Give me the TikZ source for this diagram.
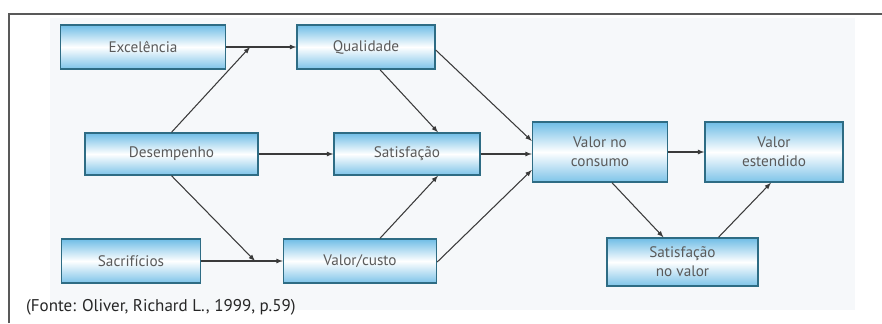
\documentclass[tikz,border=0pt]{standalone}
\usepackage{fontspec}
\setmainfont{PT Sans}
\usetikzlibrary{calc,shadows}
\definecolor{boxblue}{HTML}{6FBDE6}
\definecolor{boxedge}{HTML}{2E6C84}
\definecolor{boxtext}{HTML}{5A5A5A}
\definecolor{flecha}{HTML}{3A3A3A}
\definecolor{fundo}{HTML}{F6F8FA}

\begin{document}
\begin{tikzpicture}[x=0.03cm, y=-0.03cm, >=latex,
    caixa/.style={draw=boxedge, line width=1.2pt, top color=boxblue, bottom color=boxblue!90,
      middle color=white, align=center, text=boxtext, inner sep=0pt,
      font=\fontsize{13}{16}\selectfont,
      drop shadow={fill=orange!40, opacity=0.35, shadow xshift=0.6pt, shadow yshift=-0.6pt}},
    liga/.style={->, draw=flecha, line width=0.9pt}]
    % Moldura e fundo
    \useasboundingbox (0,0) rectangle (882,323);
    \fill[fundo] (50,18) rectangle (855,310);
    \draw[gray!70!black, line width=1.2pt] (9,323) -- (9,14) -- (882,14);

    % Coluna 1 (Antecedentes)
    \node[caixa, minimum width=4.95cm, minimum height=1.32cm] (E) at (143,47) {Excelência};
    \node[caixa, minimum width=5.19cm, minimum height=1.26cm] (D) at (171.5,154) {Desempenho};
    \node[caixa, minimum width=4.17cm, minimum height=1.32cm] (S) at (131,261) {Sacrifícios};

    % Coluna 2 (Avaliações)
    \node[caixa, minimum width=4.14cm, minimum height=1.32cm] (Q) at (366,47) {Qualidade};
    \node[caixa, minimum width=4.38cm, minimum height=1.26cm] (SA) at (407,154) {Satisfação};
    \node[caixa, minimum width=4.59cm, minimum height=1.32cm] (VC) at (360,261) {Valor/custo};

    % Coluna 3 (Valor)
    \node[caixa, minimum width=4.05cm, minimum height=1.8cm] (VN) at (600,152) {Valor no\\consumo};
    \node[caixa, minimum width=4.14cm, minimum height=1.8cm] (VE) at (774,152) {Valor\\estendido};
    \node[caixa, minimum width=4.53cm, minimum height=1.44cm] (SV) at (682.5,262) {Satisfação\\no valor};

    % Pontos de junção
    \coordinate (J1) at (250,47);
    \coordinate (J2) at (255,261);

    % Ligações da coluna 1
    \draw[liga] (E) -- (Q);
    \draw[liga] (D.north) -- (J1);
    \draw[liga] (D) -- (SA);
    \draw[liga] (D.south) -- (J2);
    \draw[liga] (S) -- (VC);

    % Ligações da coluna 2
    \draw[liga] ($(Q.south)+(14,0)$) -- ($(SA.north)+(31,0)$);
    \draw[liga] ($(VC.north)+(20,0)$) -- ($(SA.south)+(31,0)$);
    \draw[liga] ($(Q.east)+(0,3)$) -- ($(VN.west)+(0,-11)$);
    \draw[liga] (SA) -- ($(VN.west)+(0,2)$);
    \draw[liga] ($(VC.east)+(0,1)$) -- ($(VN.west)+(0,18)$);

    % Ligações da coluna 3
    \draw[liga] (VN) -- (VE);
    \draw[liga] ($(VN.south)+(12,0)$) -- ($(SV.north)+(-19,0)$);
    \draw[liga] ($(SV.north)+(36,0)$) -- ($(VE.south)+(-3,0)$);

    % Fonte
    \node[anchor=west, font=\fontsize{14.5}{17}\selectfont, text=black!85] (F) at (22,307) {(Fonte: Oliver, Richard L., 1999, p.59)};
\end{tikzpicture}
\end{document}
